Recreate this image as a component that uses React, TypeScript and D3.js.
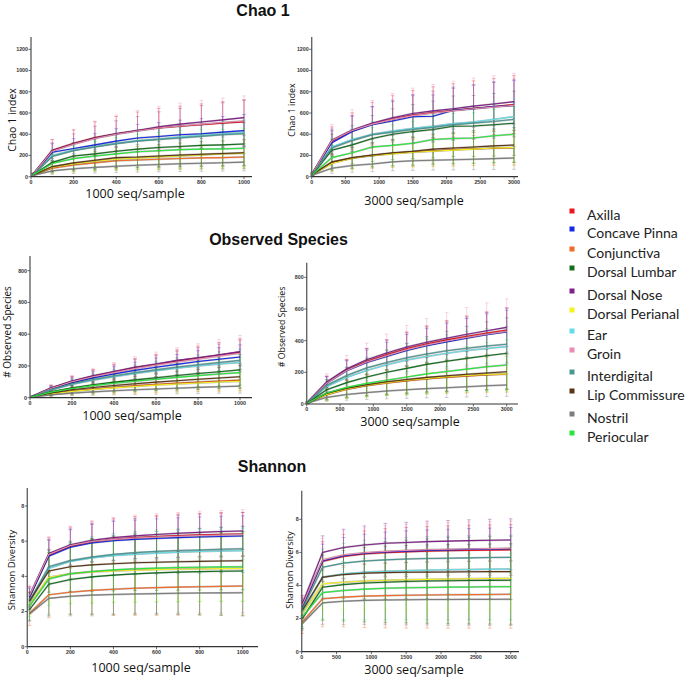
import * as d3 from "d3";

// legend order
const SITES = [
  "Axilla",
  "Concave Pinna",
  "Conjunctiva",
  "Dorsal Lumbar",
  "Dorsal Nose",
  "Dorsal Perianal",
  "Ear",
  "Groin",
  "Interdigital",
  "Lip Commissure",
  "Nostril",
  "Periocular",
];

const SITE_COLORS = [
  "#f0141e",
  "#1428e6",
  "#f06a28",
  "#146e1e",
  "#82208a",
  "#f5f020",
  "#64dce6",
  "#e88cb4",
  "#4a9692",
  "#5a3414",
  "#7d7d7d",
  "#28e63c",
];

const DEPTHS_1000 = [10, 100, 200, 300, 400, 500, 600, 700, 800, 900, 1000];
const DEPTHS_3000 = [10, 300, 600, 900, 1200, 1500, 1800, 2100, 2400, 2700, 3000];

// Chao 1, 1000 seq/sample
const chao1000Mean = [
  [25, 250, 315, 370, 405, 435, 460, 475, 490, 505, 516],
  [20, 230, 265, 300, 335, 365, 378, 395, 405, 420, 434],
  [15, 80, 110, 130, 150, 158, 165, 172, 177, 180, 185],
  [18, 135, 195, 215, 240, 260, 275, 285, 295, 300, 308],
  [25, 245, 310, 365, 405, 435, 470, 495, 515, 535, 556],
  [15, 90, 120, 145, 165, 175, 185, 195, 205, 215, 220],
  [20, 200, 250, 285, 315, 340, 355, 375, 390, 405, 415],
  [25, 240, 305, 360, 400, 430, 458, 478, 495, 510, 525],
  [20, 190, 245, 280, 310, 335, 350, 365, 380, 395, 405],
  [15, 95, 130, 155, 180, 185, 195, 205, 212, 218, 225],
  [12, 55, 75, 88, 98, 108, 115, 122, 127, 132, 137],
  [18, 125, 170, 195, 215, 235, 245, 255, 260, 262, 268],
];
const chao1000Sd = [
  [10, 100, 126, 148, 162, 174, 184, 190, 196, 202, 206],
  [7, 80, 93, 105, 117, 128, 132, 138, 142, 147, 152],
  [9, 48, 66, 78, 90, 95, 99, 103, 106, 108, 111],
  [12, 88, 127, 140, 156, 169, 179, 185, 192, 195, 200],
  [8, 74, 93, 110, 122, 131, 141, 149, 155, 161, 167],
  [9, 54, 72, 87, 99, 105, 111, 117, 123, 129, 132],
  [6, 60, 75, 86, 95, 102, 107, 113, 117, 122, 125],
  [11, 108, 137, 162, 180, 194, 206, 215, 223, 230, 236],
  [6, 57, 74, 84, 93, 101, 105, 110, 114, 119, 122],
  [8, 52, 72, 85, 99, 102, 107, 113, 117, 120, 124],
  [7, 33, 45, 53, 59, 65, 69, 73, 76, 79, 82],
  [13, 88, 119, 137, 151, 165, 172, 179, 182, 183, 188],
];

// Chao 1, 3000 seq/sample
const chao3000Mean = [
  [30, 335, 430, 500, 545, 580, 605, 625, 645, 660, 680],
  [30, 320, 425, 490, 525, 565, 570, 625, 640, 660, 670],
  [20, 130, 175, 200, 220, 235, 245, 255, 262, 268, 272],
  [20, 250, 300, 360, 400, 425, 445, 475, 478, 490, 503],
  [30, 345, 440, 505, 555, 595, 620, 640, 665, 685, 707],
  [20, 125, 175, 200, 215, 230, 240, 250, 260, 270, 275],
  [25, 280, 350, 400, 430, 455, 475, 500, 515, 540, 566],
  [30, 340, 435, 495, 540, 575, 600, 620, 640, 655, 672],
  [25, 270, 340, 395, 420, 445, 465, 490, 505, 520, 540],
  [20, 140, 180, 205, 225, 240, 260, 270, 280, 290, 298],
  [15, 80, 105, 120, 140, 150, 155, 160, 165, 170, 176],
  [20, 180, 225, 280, 295, 315, 350, 360, 365, 385, 400],
];
const chao3000Sd = [
  [12, 134, 172, 200, 218, 232, 242, 250, 258, 264, 272],
  [11, 112, 149, 172, 184, 198, 200, 219, 224, 231, 235],
  [12, 78, 105, 120, 132, 141, 147, 153, 157, 161, 163],
  [12, 150, 180, 216, 240, 255, 267, 285, 287, 294, 302],
  [9, 104, 132, 152, 167, 179, 186, 192, 200, 206, 212],
  [12, 75, 105, 120, 129, 138, 144, 150, 156, 162, 165],
  [8, 84, 105, 120, 129, 137, 143, 150, 155, 162, 170],
  [14, 153, 196, 223, 243, 259, 270, 279, 288, 295, 302],
  [8, 81, 102, 119, 126, 134, 140, 147, 152, 156, 162],
  [11, 77, 99, 113, 124, 132, 143, 149, 154, 160, 164],
  [9, 48, 63, 72, 84, 90, 93, 96, 99, 102, 106],
  [13, 117, 146, 182, 192, 205, 228, 234, 237, 250, 260],
];

// Observed species, 1000 seq/sample
const obs1000Mean = [
  [8, 60, 103, 136, 163, 190, 210, 232, 250, 268, 286],
  [8, 55, 95, 125, 150, 172, 192, 210, 228, 242, 256],
  [5, 26, 43, 55, 66, 76, 84, 92, 99, 105, 111],
  [6, 38, 62, 82, 98, 112, 126, 140, 152, 163, 175],
  [8, 62, 105, 138, 165, 192, 212, 235, 252, 270, 290],
  [5, 24, 40, 52, 62, 71, 79, 86, 93, 99, 104],
  [7, 48, 84, 110, 132, 152, 170, 186, 200, 212, 222],
  [8, 58, 100, 132, 158, 184, 205, 225, 243, 262, 280],
  [7, 50, 88, 115, 138, 158, 176, 193, 208, 222, 235],
  [5, 30, 50, 64, 77, 88, 98, 107, 116, 124, 132],
  [4, 18, 29, 37, 44, 50, 55, 60, 65, 69, 73],
  [6, 35, 58, 76, 91, 104, 116, 128, 139, 149, 158],
];
const obs1000Sd = [
  [2, 18, 31, 41, 49, 57, 63, 70, 75, 80, 86],
  [2, 17, 29, 38, 45, 52, 58, 63, 68, 73, 77],
  [3, 16, 26, 33, 40, 46, 50, 55, 59, 63, 67],
  [3, 21, 34, 45, 54, 62, 69, 77, 84, 90, 96],
  [2, 16, 26, 35, 41, 48, 53, 59, 63, 68, 73],
  [3, 14, 24, 31, 37, 43, 47, 52, 56, 59, 62],
  [2, 14, 25, 33, 40, 46, 51, 56, 60, 64, 67],
  [3, 23, 40, 53, 63, 74, 82, 90, 97, 105, 112],
  [2, 15, 26, 35, 41, 47, 53, 58, 62, 67, 71],
  [3, 17, 28, 35, 42, 48, 54, 59, 64, 68, 73],
  [2, 11, 17, 22, 26, 30, 33, 36, 39, 41, 44],
  [4, 21, 35, 46, 55, 62, 70, 77, 83, 89, 95],
];

// Observed species, 3000 seq/sample
const obs3000Mean = [
  [10, 135, 215, 270, 312, 350, 380, 405, 428, 448, 467],
  [10, 132, 210, 262, 300, 338, 368, 392, 415, 438, 455],
  [6, 58, 92, 115, 132, 146, 158, 168, 176, 184, 188],
  [8, 90, 135, 170, 200, 225, 250, 270, 288, 305, 320],
  [10, 140, 222, 280, 322, 360, 390, 415, 440, 462, 484],
  [6, 60, 95, 118, 135, 150, 162, 172, 180, 186, 190],
  [9, 110, 168, 212, 248, 278, 300, 320, 338, 350, 362],
  [10, 132, 212, 265, 305, 342, 372, 398, 420, 440, 458],
  [9, 118, 180, 228, 262, 292, 316, 336, 352, 366, 377],
  [7, 68, 100, 122, 140, 155, 168, 178, 188, 196, 204],
  [5, 42, 60, 72, 82, 90, 97, 103, 109, 115, 120],
  [7, 70, 105, 130, 150, 170, 190, 205, 220, 235, 246],
];
const obs3000Sd = [
  [3, 41, 65, 81, 94, 105, 114, 122, 128, 134, 140],
  [3, 40, 63, 79, 90, 101, 110, 118, 125, 131, 137],
  [4, 35, 55, 69, 79, 88, 95, 101, 106, 110, 113],
  [6, 63, 95, 119, 140, 158, 175, 189, 202, 214, 224],
  [3, 35, 56, 70, 81, 90, 98, 104, 110, 116, 121],
  [4, 36, 57, 71, 81, 90, 97, 103, 108, 112, 114],
  [3, 33, 50, 64, 74, 83, 90, 96, 101, 105, 109],
  [5, 59, 95, 119, 137, 154, 167, 179, 189, 198, 206],
  [3, 35, 54, 68, 79, 88, 95, 101, 106, 110, 113],
  [4, 37, 55, 67, 77, 85, 92, 98, 103, 108, 112],
  [3, 25, 36, 43, 49, 54, 58, 62, 65, 69, 72],
  [5, 46, 68, 85, 98, 111, 124, 133, 143, 153, 160],
];

// Shannon, 1000 seq/sample
const shan1000Mean = [
  [2.8, 5.2, 5.7, 5.95, 6.1, 6.2, 6.27, 6.32, 6.36, 6.39, 6.41],
  [2.8, 5.15, 5.65, 5.9, 6.02, 6.1, 6.15, 6.2, 6.24, 6.27, 6.29],
  [1.9, 2.95, 3.1, 3.2, 3.27, 3.32, 3.36, 3.39, 3.41, 3.43, 3.45],
  [2.1, 3.55, 3.82, 3.97, 4.07, 4.14, 4.2, 4.24, 4.27, 4.29, 4.3],
  [2.9, 5.3, 5.8, 6.05, 6.2, 6.3, 6.38, 6.45, 6.5, 6.55, 6.58],
  [2.4, 3.95, 4.15, 4.25, 4.3, 4.35, 4.38, 4.4, 4.42, 4.44, 4.45],
  [2.5, 4.45, 4.85, 5.05, 5.18, 5.26, 5.32, 5.37, 5.41, 5.44, 5.46],
  [2.9, 5.25, 5.75, 5.98, 6.1, 6.18, 6.24, 6.28, 6.32, 6.35, 6.38],
  [2.6, 4.55, 4.9, 5.1, 5.25, 5.35, 5.42, 5.47, 5.5, 5.54, 5.57],
  [2.6, 4.3, 4.55, 4.65, 4.72, 4.77, 4.8, 4.83, 4.85, 4.87, 4.89],
  [1.85, 2.75, 2.87, 2.93, 2.97, 3.0, 3.02, 3.04, 3.05, 3.06, 3.07],
  [2.3, 3.85, 4.15, 4.28, 4.37, 4.43, 4.47, 4.5, 4.52, 4.54, 4.55],
];
const shan1000Sd = [
  [0.6, 1.0, 1.1, 1.15, 1.2, 1.2, 1.2, 1.22, 1.22, 1.23, 1.23],
  [0.5, 0.9, 1.0, 1.05, 1.1, 1.1, 1.12, 1.13, 1.14, 1.15, 1.15],
  [0.7, 1.3, 1.35, 1.45, 1.5, 1.55, 1.58, 1.6, 1.62, 1.64, 1.66],
  [0.6, 1.8, 2.0, 2.15, 2.25, 2.3, 2.35, 2.4, 2.45, 2.5, 2.55],
  [0.5, 0.8, 0.9, 0.95, 1.0, 1.0, 1.02, 1.03, 1.04, 1.05, 1.05],
  [0.6, 1.4, 1.6, 1.7, 1.75, 1.8, 1.82, 1.84, 1.85, 1.86, 1.87],
  [0.5, 1.0, 1.1, 1.15, 1.2, 1.2, 1.22, 1.23, 1.24, 1.25, 1.25],
  [0.6, 1.0, 1.1, 1.2, 1.25, 1.3, 1.32, 1.35, 1.38, 1.4, 1.42],
  [0.5, 1.0, 1.1, 1.15, 1.2, 1.2, 1.22, 1.23, 1.24, 1.25, 1.25],
  [0.5, 1.2, 1.4, 1.5, 1.55, 1.58, 1.6, 1.62, 1.63, 1.64, 1.65],
  [0.4, 0.9, 1.0, 1.05, 1.1, 1.1, 1.12, 1.13, 1.14, 1.15, 1.15],
  [0.6, 1.5, 1.7, 1.8, 1.85, 1.9, 1.92, 1.94, 1.95, 1.96, 1.97],
];

// Shannon, 3000 seq/sample
const shan3000Mean = [
  [2.7, 5.45, 5.75, 5.9, 5.98, 6.03, 6.07, 6.1, 6.12, 6.14, 6.15],
  [2.7, 5.5, 5.8, 5.95, 6.03, 6.08, 6.12, 6.15, 6.18, 6.2, 6.22],
  [1.8, 3.2, 3.3, 3.36, 3.39, 3.41, 3.43, 3.44, 3.45, 3.46, 3.47],
  [2.0, 3.9, 4.05, 4.15, 4.2, 4.24, 4.27, 4.29, 4.3, 4.31, 4.32],
  [2.9, 6.0, 6.3, 6.45, 6.55, 6.6, 6.65, 6.68, 6.71, 6.73, 6.75],
  [2.3, 4.1, 4.2, 4.27, 4.32, 4.35, 4.37, 4.39, 4.41, 4.42, 4.43],
  [2.4, 4.5, 4.7, 4.8, 4.86, 4.9, 4.93, 4.95, 4.97, 4.99, 5.0],
  [2.8, 5.55, 5.85, 5.98, 6.06, 6.12, 6.16, 6.19, 6.21, 6.23, 6.25],
  [2.6, 5.1, 5.35, 5.48, 5.55, 5.6, 5.63, 5.65, 5.67, 5.69, 5.7],
  [2.5, 4.5, 4.66, 4.74, 4.78, 4.8, 4.81, 4.82, 4.83, 4.84, 4.84],
  [1.7, 2.95, 3.05, 3.1, 3.12, 3.14, 3.15, 3.15, 3.16, 3.16, 3.17],
  [2.1, 3.57, 3.7, 3.78, 3.83, 3.86, 3.88, 3.9, 3.91, 3.92, 3.93],
];
const shan3000Sd = [
  [0.6, 1.2, 1.35, 1.4, 1.45, 1.48, 1.5, 1.5, 1.52, 1.52, 1.53],
  [0.5, 1.0, 1.1, 1.15, 1.2, 1.22, 1.24, 1.25, 1.26, 1.27, 1.28],
  [0.7, 1.7, 1.8, 1.9, 1.95, 1.98, 2.0, 2.02, 2.03, 2.04, 2.05],
  [0.6, 2.0, 2.2, 2.35, 2.45, 2.5, 2.55, 2.6, 2.62, 2.64, 2.66],
  [0.5, 1.0, 1.1, 1.15, 1.2, 1.22, 1.24, 1.25, 1.26, 1.27, 1.28],
  [0.6, 1.5, 1.65, 1.75, 1.8, 1.83, 1.85, 1.87, 1.88, 1.89, 1.9],
  [0.5, 1.2, 1.3, 1.35, 1.4, 1.4, 1.42, 1.43, 1.44, 1.45, 1.45],
  [0.6, 1.3, 1.45, 1.5, 1.55, 1.58, 1.6, 1.62, 1.63, 1.64, 1.65],
  [0.5, 1.1, 1.2, 1.25, 1.3, 1.3, 1.32, 1.33, 1.34, 1.35, 1.35],
  [0.5, 1.3, 1.45, 1.55, 1.6, 1.62, 1.64, 1.65, 1.66, 1.67, 1.68],
  [0.4, 1.3, 1.4, 1.45, 1.5, 1.52, 1.54, 1.55, 1.56, 1.57, 1.58],
  [0.6, 1.6, 1.75, 1.85, 1.9, 1.93, 1.95, 1.97, 1.98, 1.99, 2.0],
];

const X_TICKS_1000 = [0, 200, 400, 600, 800, 1000];
const X_TICKS_3000 = [0, 500, 1000, 1500, 2000, 2500, 3000];
const CHAO_TICKS = [0, 200, 400, 600, 800, 1000, 1200];
const OBS_TICKS = [0, 200, 400, 600, 800];
const SHANNON_TICKS = [0, 2, 4, 6, 8];

interface PanelSpec {
  depths: number[];
  mean: number[][];
  sd: number[][];
  xTicks: number[];
  yTicks: number[];
  xLabel: string;
  yLabel: string;
  // pixel layout
  left: number;
  xEndPx: number; // pixel of last x tick
  axisRight: number;
  bottom: number;
  yRefPx: number; // pixel of last y tick
  axisTop: number;
  yLabelX: number;
  yLabelY: number;
  yLabelSize: number;
  xLabelX: number;
  xLabelY: number;
}

const FONT = "'Open Sans', 'DejaVu Sans', sans-serif";
const TICK_FONT = "'Liberation Sans', Arial, sans-serif";

function Panel({ p }: { p: PanelSpec }) {
  const xMax = p.xTicks[p.xTicks.length - 1];
  const yMax = p.yTicks[p.yTicks.length - 1];
  const x = d3.scaleLinear().domain([0, xMax]).range([p.left, p.xEndPx]);
  const y = d3.scaleLinear().domain([0, yMax]).range([p.bottom, p.yRefPx]);
  const line = d3
    .line<number>()
    .x((_, i) => x(p.depths[i]))
    .y((d) => y(d));

  return (
    <g>
      {/* error bars */}
      {p.mean.map((series, s) => (
        <g key={"e" + s} stroke={SITE_COLORS[s]} strokeOpacity={0.36} strokeWidth={1}>
          {series.map((m, i) => {
            const lo = y(Math.max(0, m - p.sd[s][i]));
            const hi = y(m + p.sd[s][i]);
            const cx = x(p.depths[i]);
            return (
              <g key={i}>
                <line x1={cx} x2={cx} y1={lo} y2={hi} />
                <line x1={cx - 1.8} x2={cx + 1.8} y1={lo} y2={lo} />
                <line x1={cx - 1.8} x2={cx + 1.8} y1={hi} y2={hi} />
              </g>
            );
          })}
        </g>
      ))}
      {/* mean lines */}
      {p.mean.map((series, s) => (
        <g key={"l" + s}>
          <path d={line(series) ?? ""} fill="none" stroke="#222" strokeOpacity={0.28} strokeWidth={1.9} />
          <path d={line(series) ?? ""} fill="none" stroke={SITE_COLORS[s]} strokeWidth={1.1} />
        </g>
      ))}
      {/* axes */}
      <line x1={p.left} x2={p.left} y1={p.bottom} y2={p.axisTop} stroke="#666" strokeWidth={1.4} />
      <line x1={p.left} x2={p.axisRight} y1={p.bottom} y2={p.bottom} stroke="#333" strokeWidth={1.2} />
      {p.yTicks.map((t) => (
        <g key={"y" + t}>
          <line x1={p.left - 2.5} x2={p.left} y1={y(t)} y2={y(t)} stroke="#444" strokeWidth={0.8} />
          <text
            x={p.left - 3}
            y={y(t)}
            dy="0.35em"
            textAnchor="end"
            fontFamily={TICK_FONT}
            fontSize={5.3}
            fontWeight="bold"
            fill="#333"
          >
            {t}
          </text>
        </g>
      ))}
      {p.xTicks.map((t) => (
        <g key={"x" + t}>
          <line x1={x(t)} x2={x(t)} y1={p.bottom} y2={p.bottom + 2.5} stroke="#444" strokeWidth={0.8} />
          <text
            x={x(t)}
            y={p.bottom + 6.8}
            textAnchor="middle"
            fontFamily={TICK_FONT}
            fontSize={5.3}
            fontWeight="bold"
            fill="#333"
          >
            {t}
          </text>
        </g>
      ))}
      <text
        transform={`translate(${p.yLabelX},${p.yLabelY}) rotate(-90)`}
        textAnchor="middle"
        dy="0.35em"
        fontFamily={FONT}
        fontSize={p.yLabelSize}
        fill="#111"
      >
        {p.yLabel}
      </text>
      <text x={p.xLabelX} y={p.xLabelY} textAnchor="middle" fontFamily={FONT} fontSize={12.5} fill="#111">
        {p.xLabel}
      </text>
    </g>
  );
}

const panels: PanelSpec[] = [
  {
    depths: DEPTHS_1000, mean: chao1000Mean, sd: chao1000Sd,
    xTicks: X_TICKS_1000, yTicks: CHAO_TICKS,
    xLabel: "1000 seq/sample", yLabel: "Chao 1 index",
    left: 31, xEndPx: 244, axisRight: 252, bottom: 176.7, yRefPx: 49.3, axisTop: 37,
    yLabelX: 12, yLabelY: 120, yLabelSize: 10.5, xLabelX: 135, xLabelY: 197.5,
  },
  {
    depths: DEPTHS_3000, mean: chao3000Mean, sd: chao3000Sd,
    xTicks: X_TICKS_3000, yTicks: CHAO_TICKS,
    xLabel: "3000 seq/sample", yLabel: "Chao 1 index",
    left: 311.7, xEndPx: 514, axisRight: 518, bottom: 176.7, yRefPx: 49.3, axisTop: 37,
    yLabelX: 292, yLabelY: 110, yLabelSize: 8.8, xLabelX: 414, xLabelY: 205,
  },
  {
    depths: DEPTHS_1000, mean: obs1000Mean, sd: obs1000Sd,
    xTicks: X_TICKS_1000, yTicks: OBS_TICKS,
    xLabel: "1000 seq/sample", yLabel: "# Observed Species",
    left: 30, xEndPx: 240, axisRight: 252, bottom: 397.7, yRefPx: 270.7, axisTop: 256,
    yLabelX: 7, yLabelY: 332, yLabelSize: 10, xLabelX: 132, xLabelY: 419.5,
  },
  {
    depths: DEPTHS_3000, mean: obs3000Mean, sd: obs3000Sd,
    xTicks: X_TICKS_3000, yTicks: OBS_TICKS,
    xLabel: "3000 seq/sample", yLabel: "# Observed Species",
    left: 306.7, xEndPx: 506.7, axisRight: 518, bottom: 404, yRefPx: 277.3, axisTop: 262.7,
    yLabelX: 282, yLabelY: 327, yLabelSize: 8.8, xLabelX: 410, xLabelY: 425.5,
  },
  {
    depths: DEPTHS_1000, mean: shan1000Mean, sd: shan1000Sd,
    xTicks: X_TICKS_1000, yTicks: SHANNON_TICKS,
    xLabel: "1000 seq/sample", yLabel: "Shannon Diversity",
    left: 27.3, xEndPx: 242.7, axisRight: 258, bottom: 646.7, yRefPx: 506, axisTop: 488,
    yLabelX: 11.7, yLabelY: 570, yLabelSize: 9.5, xLabelX: 141, xLabelY: 671.5,
  },
  {
    depths: DEPTHS_3000, mean: shan3000Mean, sd: shan3000Sd,
    xTicks: X_TICKS_3000, yTicks: SHANNON_TICKS,
    xLabel: "3000 seq/sample", yLabel: "Shannon Diversity",
    left: 301.7, xEndPx: 510.7, axisRight: 519, bottom: 651.7, yRefPx: 519.3, axisTop: 490.7,
    yLabelX: 290, yLabelY: 570, yLabelSize: 9.2, xLabelX: 414, xLabelY: 673.5,
  },
];

const TITLES = ["Chao 1", "Observed Species", "Shannon"];
const titleLayout = [
  { x: 263, y: 16 },
  { x: 278.5, y: 245 },
  { x: 272, y: 472 },
];

// legend row centres (px)
const legendY = [215, 233, 253, 272, 295, 314, 335, 354, 376, 395, 418, 437];

export default function App() {
  return (
    <div style={{ position: "absolute", left: 0, top: 0 }}>
      <svg width={688} height={678} style={{ display: "block", background: "#fff" }}>
        <rect width={688} height={678} fill="#fff" />
        {TITLES.map((t, i) => (
          <text
            key={t}
            x={titleLayout[i].x}
            y={titleLayout[i].y}
            textAnchor="middle"
            fontFamily="'Liberation Sans', Arial, sans-serif"
            fontWeight="bold"
            fontSize={16}
            fill="#111"
          >
            {t}
          </text>
        ))}
        {panels.map((p, i) => (
          <Panel key={i} p={p} />
        ))}
        {SITES.map((name, i) => (
          <g key={name}>
            <rect x={569.5} y={legendY[i] - 6.5} width={5} height={5} fill={SITE_COLORS[i]} />
            <text x={587} y={legendY[i]} dy="0.35em" fontFamily="Lato, 'Open Sans', sans-serif" fontSize={14} fill="#222">
              {name}
            </text>
          </g>
        ))}
      </svg>
    </div>
  );
}
